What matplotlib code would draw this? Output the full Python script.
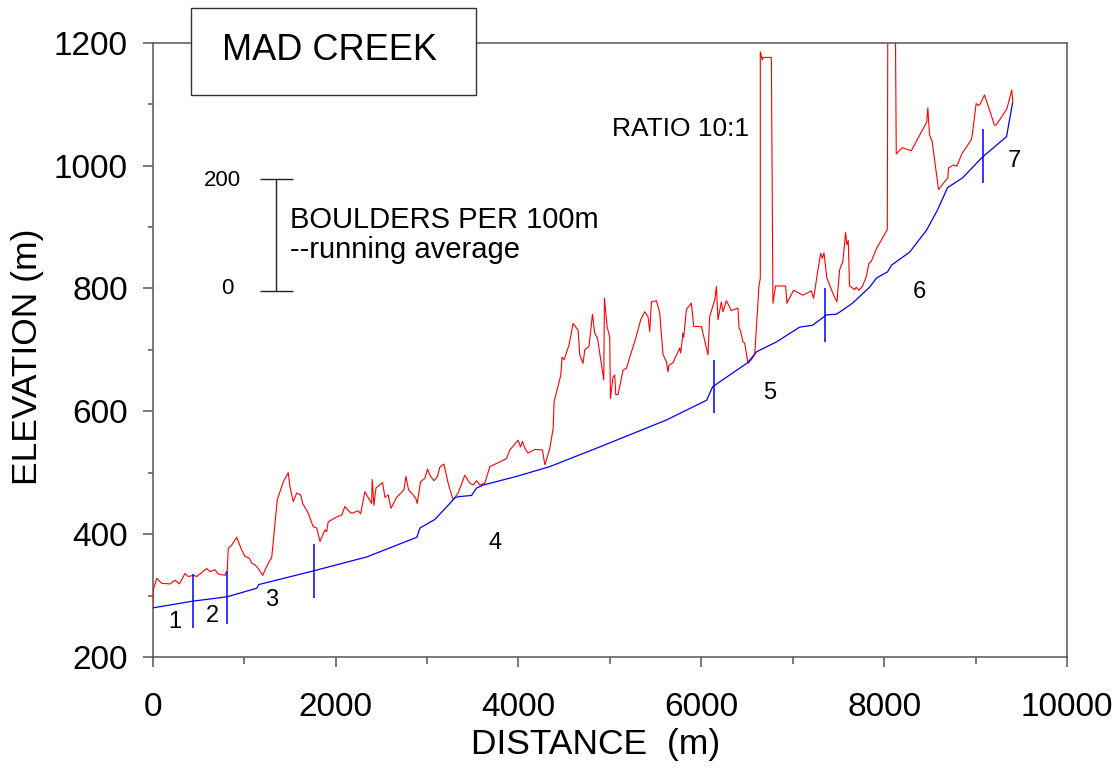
import matplotlib
matplotlib.use("Agg")
import matplotlib.pyplot as plt
from matplotlib.patches import Rectangle
from matplotlib.ticker import MultipleLocator

plt.rcParams['font.family'] = ['Liberation Sans', 'DejaVu Sans']

## Data
# channel profile (blue)
bed_x = [0, 440, 812, 1137, 1160, 1752, 2342, 2889, 2922, 3086, 3268, 3304, 3340,
         3487, 3541, 3614, 3979, 4343, 4889, 5621, 6058, 6124, 6506, 6605, 6823,
         7075, 7217, 7370, 7479, 7654, 7840, 7917, 8037, 8081, 8278, 8464, 8584,
         8693, 8857, 9076, 9338, 9404]
bed_y = [280, 291, 298, 312, 318, 340, 363, 395, 410, 424, 453, 459, 461,
         463, 475, 480, 494, 510, 542, 586, 618, 640, 679, 697, 713,
         737, 740, 757, 758, 776, 802, 817, 827, 838, 859, 895, 928,
         964, 980, 1014, 1047, 1102]

# boulders per 100 m, running average, plotted at 10:1 above the bed (red)
boulder_x = [0, 7, 44, 98, 189, 243, 291, 353, 389, 444, 481, 590, 626, 681, 717,
             790, 815, 826, 863, 918, 973, 1009, 1056, 1082, 1118, 1154, 1202,
             1264, 1301, 1337, 1362, 1427, 1482, 1501, 1537, 1574, 1618, 1640,
             1701, 1755, 1793, 1829, 1883, 1902, 1919, 2011, 2066, 2102, 2149,
             2175, 2247, 2273, 2320, 2394, 2400, 2419, 2441, 2514, 2539, 2575,
             2605, 2667, 2747, 2769, 2798, 2831, 2878, 2892, 2929, 2976, 3006,
             3031, 3075, 3111, 3140, 3184, 3231, 3268, 3286, 3340, 3413, 3468,
             3504, 3541, 3577, 3632, 3687, 3760, 3869, 3905, 3996, 4022, 4044,
             4069, 4105, 4179, 4263, 4288, 4306, 4343, 4379, 4390, 4463, 4477,
             4499, 4553, 4597, 4652, 4670, 4706, 4725, 4772, 4809, 4834, 4864,
             4933, 4940, 4969, 4998, 5006, 5034, 5053, 5064, 5089, 5144, 5181,
             5217, 5283, 5337, 5381, 5417, 5436, 5454, 5509, 5545, 5581, 5618,
             5636, 5646, 5690, 5764, 5774, 5800, 5807, 5837, 5891, 5917, 6001,
             6073, 6091, 6146, 6165, 6182, 6219, 6237, 6274, 6329, 6401, 6412,
             6427, 6455, 6474, 6510, 6547, 6583, 6594, 6630, 6645, 6645, 6667,
             6674, 6766, 6783, 6812, 6922, 6936, 7009, 7111, 7203, 7228, 7275,
             7305, 7323, 7341, 7373, 7439, 7483, 7512, 7548, 7578, 7592, 7607,
             7621, 7676, 7695, 7723, 7760, 7804, 7833, 7859, 7913, 8034, 8040,
             8121, 8132, 8198, 8296, 8466, 8477, 8496, 8525, 8594, 8696, 8703,
             8758, 8794, 8853, 8952, 8963, 9006, 9028, 9050, 9097, 9206, 9225,
             9341, 9396, 9406]
boulder_y = [282, 310, 328, 320, 319, 325, 319, 336, 331, 333, 331, 344, 339, 342, 335,
             333, 342, 377, 382, 395, 374, 364, 361, 353, 350, 344, 333,
             353, 362, 418, 456, 485, 500, 477, 453, 467, 464, 450,
             434, 412, 410, 388, 407, 404, 420, 428, 431, 445, 437,
             434, 438, 433, 469, 450, 489, 447, 475, 484, 460, 464,
             442, 460, 472, 494, 472, 467, 458, 450, 485, 491, 506,
             496, 487, 493, 509, 514, 483, 464, 456, 467, 496, 483,
             480, 487, 480, 483, 510, 515, 523, 537, 553, 542, 551,
             540, 532, 538, 537, 513, 521, 540, 572, 616, 659, 688,
             684, 708, 743, 732, 692, 678, 700, 706, 758, 727, 719,
             651, 784, 738, 721, 621, 656, 659, 627, 627, 667, 670,
             688, 719, 749, 762, 754, 730, 778, 780, 760, 692, 681,
             664, 675, 679, 703, 695, 727, 721, 766, 776, 738, 738,
             692, 754, 781, 803, 749, 778, 762, 780, 764, 768, 735,
             732, 713, 711, 678, 684, 692, 716, 803, 817, 1185, 1172,
             1176, 1176, 776, 804, 804, 776, 797, 789, 796, 784, 830,
             857, 849, 858, 817, 792, 778, 830, 844, 891, 871, 878,
             804, 798, 802, 797, 803, 819, 841, 844, 864, 896, 1260,
             1260, 1019, 1029, 1024, 1071, 1094, 1050, 1039, 961, 980, 996,
             1001, 999, 1020, 1042, 1050, 1101, 1098, 1100, 1115, 1066, 1066,
             1092, 1123, 1104]

# reach boundaries (blue ticks) and reach numbers
reach_x = [444, 809, 1763, 6139, 7356, 9083]
reach_lo = [247, 253, 296, 597, 713, 972]
reach_hi = [335, 340, 384, 683, 800, 1060]
reach_labels = ['1', '2', '3', '4', '5', '6', '7']
reach_label_x = [244, 648, 1304, 3741, 6747, 8387, 9425]
reach_label_y = [257, 267, 293, 386, 629, 794, 1008]

# scale bar for boulder counts
scale_x = 1344
scale_lo = 795
scale_hi = 978

fig = plt.figure(figsize=(11.15, 7.69), dpi=100)
ax = fig.add_axes([0.137, 0.1456, 0.820, 0.7989])

ax.plot(boulder_x, boulder_y, color='#ff0000', lw=0.8, zorder=3)
ax.plot(bed_x, bed_y, color='#0000ff', lw=0.9, zorder=4)
ax.vlines(reach_x, reach_lo, reach_hi, color='#0000ff', lw=1.1, zorder=4)

for lab, lx, ly in zip(reach_labels, reach_label_x, reach_label_y):
    ax.text(lx, ly, lab, fontsize=17, ha='center', va='center')

# scale bar
ax.vlines(scale_x, scale_lo, scale_hi, color='#222222', lw=1.0)
ax.hlines([scale_lo, scale_hi], scale_x - 170, scale_x + 190, color='#222222', lw=1.0)
ax.text(970, scale_hi - 3, '200', fontsize=16, ha='right', va='center')
ax.text(880, scale_lo + 5, '0', fontsize=16, ha='right', va='center')
ax.text(1501, 912, 'BOULDERS PER 100m', fontsize=21, ha='left', va='center')
ax.text(1501, 863, '--running average', fontsize=21, ha='left', va='center')
ax.text(5770, 1060, 'RATIO 10:1', fontsize=19, ha='center', va='center')

ax.set_xlim(0, 10000)
ax.set_ylim(200, 1200)
ax.xaxis.set_major_locator(MultipleLocator(2000))
ax.xaxis.set_minor_locator(MultipleLocator(1000))
ax.yaxis.set_major_locator(MultipleLocator(200))
ax.yaxis.set_minor_locator(MultipleLocator(100))
ax.tick_params(which='both', direction='out', color='#555555', width=1.1,
               labelsize=24, top=False, right=False)
ax.tick_params(axis='x', which='major', length=7.5, pad=18)
ax.tick_params(axis='x', which='minor', length=5)
ax.tick_params(axis='y', which='major', length=7, pad=11)
ax.tick_params(axis='y', which='minor', length=3.5)
for s in ax.spines.values():
    s.set_color('#555555')
    s.set_linewidth(1.1)

ax.set_xlabel('DISTANCE  (m)', fontsize=25.5)
ax.set_ylabel('ELEVATION (m)', fontsize=25.5)
ax.xaxis.set_label_coords(0.484, -0.116)
ax.yaxis.set_label_coords(-0.119, 0.488)

# title box sitting over the top spine
fig.add_artist(Rectangle((191 / 1115, 1 - 95 / 769), 285 / 1115, 87 / 769,
                         transform=fig.transFigure, facecolor='white',
                         edgecolor='#333333', lw=1.0, zorder=5))
fig.text(329 / 1115, 1 - 51 / 769, 'MAD CREEK', fontsize=26,
         ha='center', va='center', zorder=6)

fig.savefig('out.png', dpi=100)
